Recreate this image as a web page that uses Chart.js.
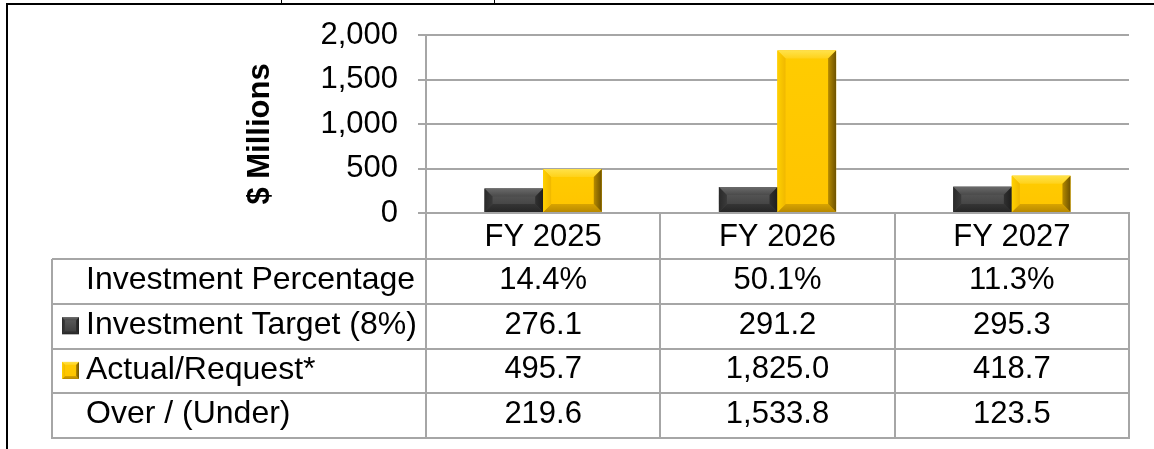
<!DOCTYPE html>
<html>
<head>
<meta charset="utf-8">
<title>Investment Target vs Actual/Request</title>
<script src="https://cdn.jsdelivr.net/npm/chart.js@4.4.1/dist/chart.umd.min.js"></script>
<style>
    html, body { margin: 0; padding: 0; background: #fff; }
    #wrap { width: 1154px; height: 449px; position: relative; }
</style>
</head>
<body>
<div id="wrap"><canvas id="investChart"></canvas></div>
<script>
// Chart data
const categories = ['FY 2025', 'FY 2026', 'FY 2027'];
const investmentPercentage = [14.4, 50.1, 11.3];
const investmentTarget = [276.1, 291.2, 295.3];
const actualRequest = [495.7, 1825.0, 418.7];
const overUnder = [219.6, 1533.8, 123.5];
const yTicks = [0, 500, 1000, 1500, 2000];

const FONT = '"Liberation Sans", Arial, sans-serif';
const GRID = '#a6a6a6';

// bevel styles for the two series
const darkStyle = {
    face: ['#5e5e5e', '#3a3a3a'],
    top: ['#6a6a6a', '#4a4a4a'],
    left: ['#2a2a2a', '#3a3a3a'],
    right: ['#303030', '#1e1e1e'],
    bottom: ['#353535', '#262626']
};
const goldStyle = {
    face: ['#ffcc00', '#ffc400'],
    top: ['#ffe24a', '#ffd21a'],
    left: ['#ffd000', '#f0b800'],
    right: ['#b58a00', '#6e5200'],
    bottom: ['#d9a400', '#b88900']
};

function fmt(v) {
    return v.toLocaleString('en-US', { minimumFractionDigits: 1, maximumFractionDigits: 1 });
}

function poly(ctx, pts, fill) {
    ctx.beginPath();
    ctx.moveTo(pts[0][0], pts[0][1]);
    for (let i = 1; i < pts.length; i++) ctx.lineTo(pts[i][0], pts[i][1]);
    ctx.closePath();
    ctx.fillStyle = fill;
    ctx.fill();
}

function grad(ctx, x0, y0, x1, y1, c) {
    const g = ctx.createLinearGradient(x0, y0, x1, y1);
    g.addColorStop(0, c[0]);
    g.addColorStop(1, c[1]);
    return g;
}

function bevelBox(ctx, left, top, right, bottom, st, size) {
    const b = Math.min(size, (bottom - top) / 2, (right - left) / 2);
    poly(ctx, [[left, top], [right, top], [right, bottom], [left, bottom]],
        grad(ctx, 0, top, 0, bottom, st.face));
    poly(ctx, [[left, top], [right, top], [right - b, top + b], [left + b, top + b]],
        grad(ctx, 0, top, 0, top + b, st.top));
    poly(ctx, [[left, bottom], [right, bottom], [right - b, bottom - b], [left + b, bottom - b]],
        grad(ctx, 0, bottom - b, 0, bottom, st.bottom));
    poly(ctx, [[left, top], [left + b, top + b], [left + b, bottom - b], [left, bottom]],
        grad(ctx, left, 0, left + b, 0, st.left));
    poly(ctx, [[right, top], [right - b, top + b], [right - b, bottom - b], [right, bottom]],
        grad(ctx, right - b, 0, right, 0, st.right));
}

// outer frame lines from the surrounding document
const framePlugin = {
    id: 'frame',
    beforeDraw(chart) {
        const ctx = chart.ctx;
        ctx.save();
        ctx.fillStyle = '#fff';
        ctx.fillRect(0, 0, chart.width, chart.height);
        ctx.fillStyle = '#000';
        ctx.fillRect(6, 3, chart.width - 6, 2);
        ctx.fillRect(6, 3, 2, chart.height - 3);
        ctx.fillRect(281, 0, 1, 4);
        ctx.fillRect(494, 0, 1, 4);
        ctx.restore();
    }
};

// 3D bevel look on the bars
const bevelPlugin = {
    id: 'bevel',
    afterDatasetsDraw(chart) {
        const ctx = chart.ctx;
        const styles = [darkStyle, goldStyle];
        ctx.save();
        chart.data.datasets.forEach((ds, di) => {
            chart.getDatasetMeta(di).data.forEach(el => {
                const p = el.getProps(['x', 'y', 'base', 'width'], true);
                bevelBox(ctx, p.x - p.width / 2, Math.min(p.y, p.base),
                    p.x + p.width / 2, Math.max(p.y, p.base), styles[di], 8);
            });
        });
        ctx.restore();
    }
};

// data table under the axis + y title
const tablePlugin = {
    id: 'dataTable',
    afterDraw(chart) {
        const ctx = chart.ctx;
        const area = chart.chartArea;
        const xs = chart.scales.x;

        const edges = [area.left];
        for (let i = 0; i < categories.length - 1; i++) {
            edges.push((xs.getPixelForValue(i) + xs.getPixelForValue(i + 1)) / 2);
        }
        edges.push(area.right);

        const rows = [
            { label: 'Investment Percentage', values: investmentPercentage.map(v => v.toFixed(1) + '%') },
            { label: 'Investment Target (8%)', values: investmentTarget.map(fmt), swatch: darkStyle },
            { label: 'Actual/Request*', values: actualRequest.map(fmt), swatch: goldStyle },
            { label: 'Over / (Under)', values: overUnder.map(fmt) }
        ];
        const tableLeft = 52;
        const rowTop = 259;
        const rowH = 44.75;
        const tableBottom = rowTop + rowH * rows.length;

        ctx.save();
        ctx.strokeStyle = GRID;
        ctx.lineWidth = 2;
        ctx.beginPath();
        for (let r = 0; r <= rows.length; r++) {
            const y = Math.round(rowTop + r * rowH);
            ctx.moveTo(tableLeft, y);
            ctx.lineTo(area.right + 1, y);
        }
        ctx.moveTo(tableLeft, rowTop);
        ctx.lineTo(tableLeft, tableBottom + 1);
        edges.forEach(x => {
            ctx.moveTo(Math.round(x), area.bottom);
            ctx.lineTo(Math.round(x), tableBottom + 1);
        });
        ctx.stroke();

        ctx.fillStyle = '#000';
        ctx.textBaseline = 'middle';
        rows.forEach((row, r) => {
            const cy = rowTop + r * rowH + rowH / 2 - 1;
            ctx.textAlign = 'left';
            ctx.font = '32px ' + FONT;
            ctx.fillText(row.label, 86, cy);
            if (row.swatch) {
                bevelBox(ctx, 62, cy - 8, 79, cy + 9, row.swatch, 3);
                ctx.fillStyle = '#000';
            }
            ctx.textAlign = 'center';
            ctx.font = '31px ' + FONT;
            row.values.forEach((v, i) => {
                ctx.fillText(v, (edges[i] + edges[i + 1]) / 2, cy);
            });
        });

        // axis title
        ctx.translate(260, 134);
        ctx.rotate(-Math.PI / 2);
        ctx.font = 'bold 31px ' + FONT;
        ctx.textAlign = 'center';
        ctx.fillText('$ Millions', 0, 0);
        ctx.restore();
    }
};

const ctx = document.getElementById('investChart');
const investChart = new Chart(ctx, {
    type: 'bar',
    data: {
        labels: categories,
        datasets: [{
            label: 'Investment Target (8%)',
            data: investmentTarget,
            backgroundColor: '#404040',
            borderWidth: 0,
            categoryPercentage: 0.5,
            barPercentage: 1.0
        }, {
            label: 'Actual/Request*',
            data: actualRequest,
            backgroundColor: '#ffc800',
            borderWidth: 0,
            categoryPercentage: 0.5,
            barPercentage: 1.0
        }]
    },
    options: {
        responsive: true,
        maintainAspectRatio: false,
        animation: false,
        layout: { padding: { left: 0, top: 30, right: 25, bottom: 0 } },
        plugins: {
            legend: { display: false },
            tooltip: { enabled: false },
            title: { display: false }
        },
        scales: {
            x: {
                afterFit: s => { s.height = 236; },
                grid: { display: false, drawTicks: false },
                border: { display: true, color: GRID, width: 2 },
                ticks: {
                    color: '#000',
                    padding: 6,
                    font: { family: FONT, size: 31 }
                }
            },
            y: {
                min: 0,
                max: 2000,
                afterFit: s => { s.width = 426; },
                afterBuildTicks: s => { s.ticks = yTicks.map(v => ({ value: v })); },
                grid: { color: GRID, lineWidth: 2, tickLength: 8 },
                border: { display: true, color: GRID, width: 2 },
                ticks: {
                    color: '#000',
                    padding: 20,
                    font: { family: FONT, size: 31, lineHeight: 0.97 },
                    callback: v => v.toLocaleString('en-US')
                }
            }
        }
    },
    plugins: [framePlugin, bevelPlugin, tablePlugin]
});
</script>
</body>
</html>
